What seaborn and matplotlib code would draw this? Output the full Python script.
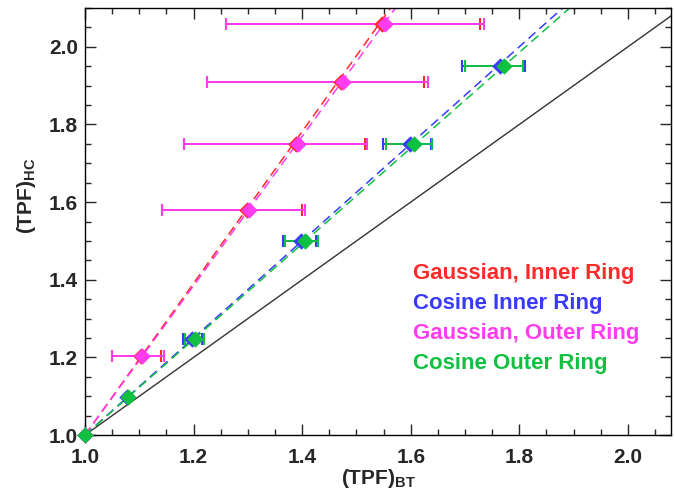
# Recreation of the (TPF)_HC vs (TPF)_BT comparison chart

import matplotlib
matplotlib.use('Agg')
import matplotlib.pyplot as plt
from matplotlib.ticker import MultipleLocator
import numpy as np
import seaborn as sns

# Data
names = ['Gaussian, Inner Ring', 'Cosine Inner Ring',
         'Gaussian, Outer Ring', 'Cosine Outer Ring']
colors = ['#ff2a2a', '#3a3aff', '#ff3cf0', '#10c040']

# (TPF)_HC values, shared by the two Gaussian and the two Cosine series
gauss_y = [1.0, 1.205, 1.58, 1.75, 1.91, 2.06]
cos_y = [1.0, 1.097, 1.248, 1.5, 1.75, 1.95]

# (TPF)_BT centre values and error bar ends
gauss_in_x = [1.0, 1.103, 1.298, 1.388, 1.472, 1.548]
gauss_in_lo = [1.0, 1.05, 1.142, 1.183, 1.224, 1.26]
gauss_in_hi = [1.0, 1.14, 1.40, 1.515, 1.625, 1.728]

cos_in_x = [1.0, 1.078, 1.198, 1.398, 1.598, 1.765]
cos_in_lo = [1.0, 1.078, 1.18, 1.365, 1.549, 1.695]
cos_in_hi = [1.0, 1.078, 1.215, 1.425, 1.637, 1.81]

gauss_out_x = [1.0, 1.106, 1.302, 1.392, 1.476, 1.552]
gauss_out_lo = [1.0, 1.05, 1.142, 1.183, 1.224, 1.26]
gauss_out_hi = [1.0, 1.145, 1.405, 1.52, 1.632, 1.735]

cos_out_x = [1.0, 1.08, 1.203, 1.405, 1.606, 1.772]
cos_out_lo = [1.0, 1.08, 1.185, 1.368, 1.554, 1.70]
cos_out_hi = [1.0, 1.08, 1.22, 1.43, 1.64, 1.806]

# Dashed fit lines: start and end points
fit_y = [1.0, 2.1]
gauss_in_fit_x = [1.0, 1.563]
cos_in_fit_x = [1.0, 1.88]
gauss_out_fit_x = [1.0, 1.572]
cos_out_fit_x = [1.0, 1.893]

# one-to-one line
diag = [1.0, 2.08]

sns.set_style('ticks')
plt.rcParams['font.family'] = ['Liberation Sans', 'DejaVu Sans']
plt.rcParams['font.weight'] = 'bold'
plt.rcParams['mathtext.fontset'] = 'custom'
plt.rcParams['mathtext.bf'] = 'Liberation Sans:bold'
plt.rcParams['mathtext.rm'] = 'Liberation Sans:bold'

fig = plt.figure(figsize=(6.74, 4.99), dpi=100)
ax = fig.add_axes([0.126, 0.128, 0.87, 0.856])

sns.lineplot(x=diag, y=diag, color='#333333', lw=1.0, ax=ax)

series = [
    (gauss_in_x, gauss_y, gauss_in_lo, gauss_in_hi, gauss_in_fit_x),
    (cos_in_x, cos_y, cos_in_lo, cos_in_hi, cos_in_fit_x),
    (gauss_out_x, gauss_y, gauss_out_lo, gauss_out_hi, gauss_out_fit_x),
    (cos_out_x, cos_y, cos_out_lo, cos_out_hi, cos_out_fit_x),
]

for (x, y, lo, hi, fx), c in zip(series, colors):
    x = np.array(x)
    xerr = [x - np.array(lo), np.array(hi) - x]
    sns.lineplot(x=fx, y=fit_y, color=c, lw=1.1, ax=ax,
                 dashes=False, linestyle=(0, (6, 3.5)))
    ax.errorbar(x, y, xerr=xerr, fmt='none', ecolor=c, elinewidth=1.4,
                capsize=4, capthick=1.5)
    sns.scatterplot(x=x, y=y, color=c, marker='D', s=60,
                    edgecolor=c, ax=ax, zorder=5, clip_on=False)

# coloured text legend
for i, (name, c) in enumerate(zip(names, colors)):
    ax.text(0.559, 0.379 - i * 0.0703, name, color=c, fontsize=16,
            fontweight='bold', transform=ax.transAxes, va='center')

ax.set_xlim(1.0, 2.08)
ax.set_ylim(1.0, 2.1)
ax.xaxis.set_major_locator(MultipleLocator(0.2))
ax.xaxis.set_minor_locator(MultipleLocator(0.05))
ax.yaxis.set_major_locator(MultipleLocator(0.2))
ax.yaxis.set_minor_locator(MultipleLocator(0.05))
ax.tick_params(which='both', direction='in', top=True, right=True,
               labelsize=15, width=1)
ax.tick_params(which='major', length=8)
ax.tick_params(axis='x', which='major', pad=9)
ax.tick_params(axis='y', which='major', pad=5)
ax.tick_params(which='minor', length=4)
for lab in ax.get_xticklabels() + ax.get_yticklabels():
    lab.set_fontweight('bold')
for sp in ax.spines.values():
    sp.set_linewidth(1)
    sp.set_color('black')

ax.set_xlabel(r'(TPF)$_\mathbf{BT}$', fontsize=15, fontweight='bold')
ax.set_ylabel(r'(TPF)$_\mathbf{HC}$', fontsize=15, fontweight='bold')
ax.xaxis.set_label_coords(0.5, -0.075)
ax.yaxis.set_label_coords(-0.08, 0.56)

fig.savefig('out.png', dpi=100)
